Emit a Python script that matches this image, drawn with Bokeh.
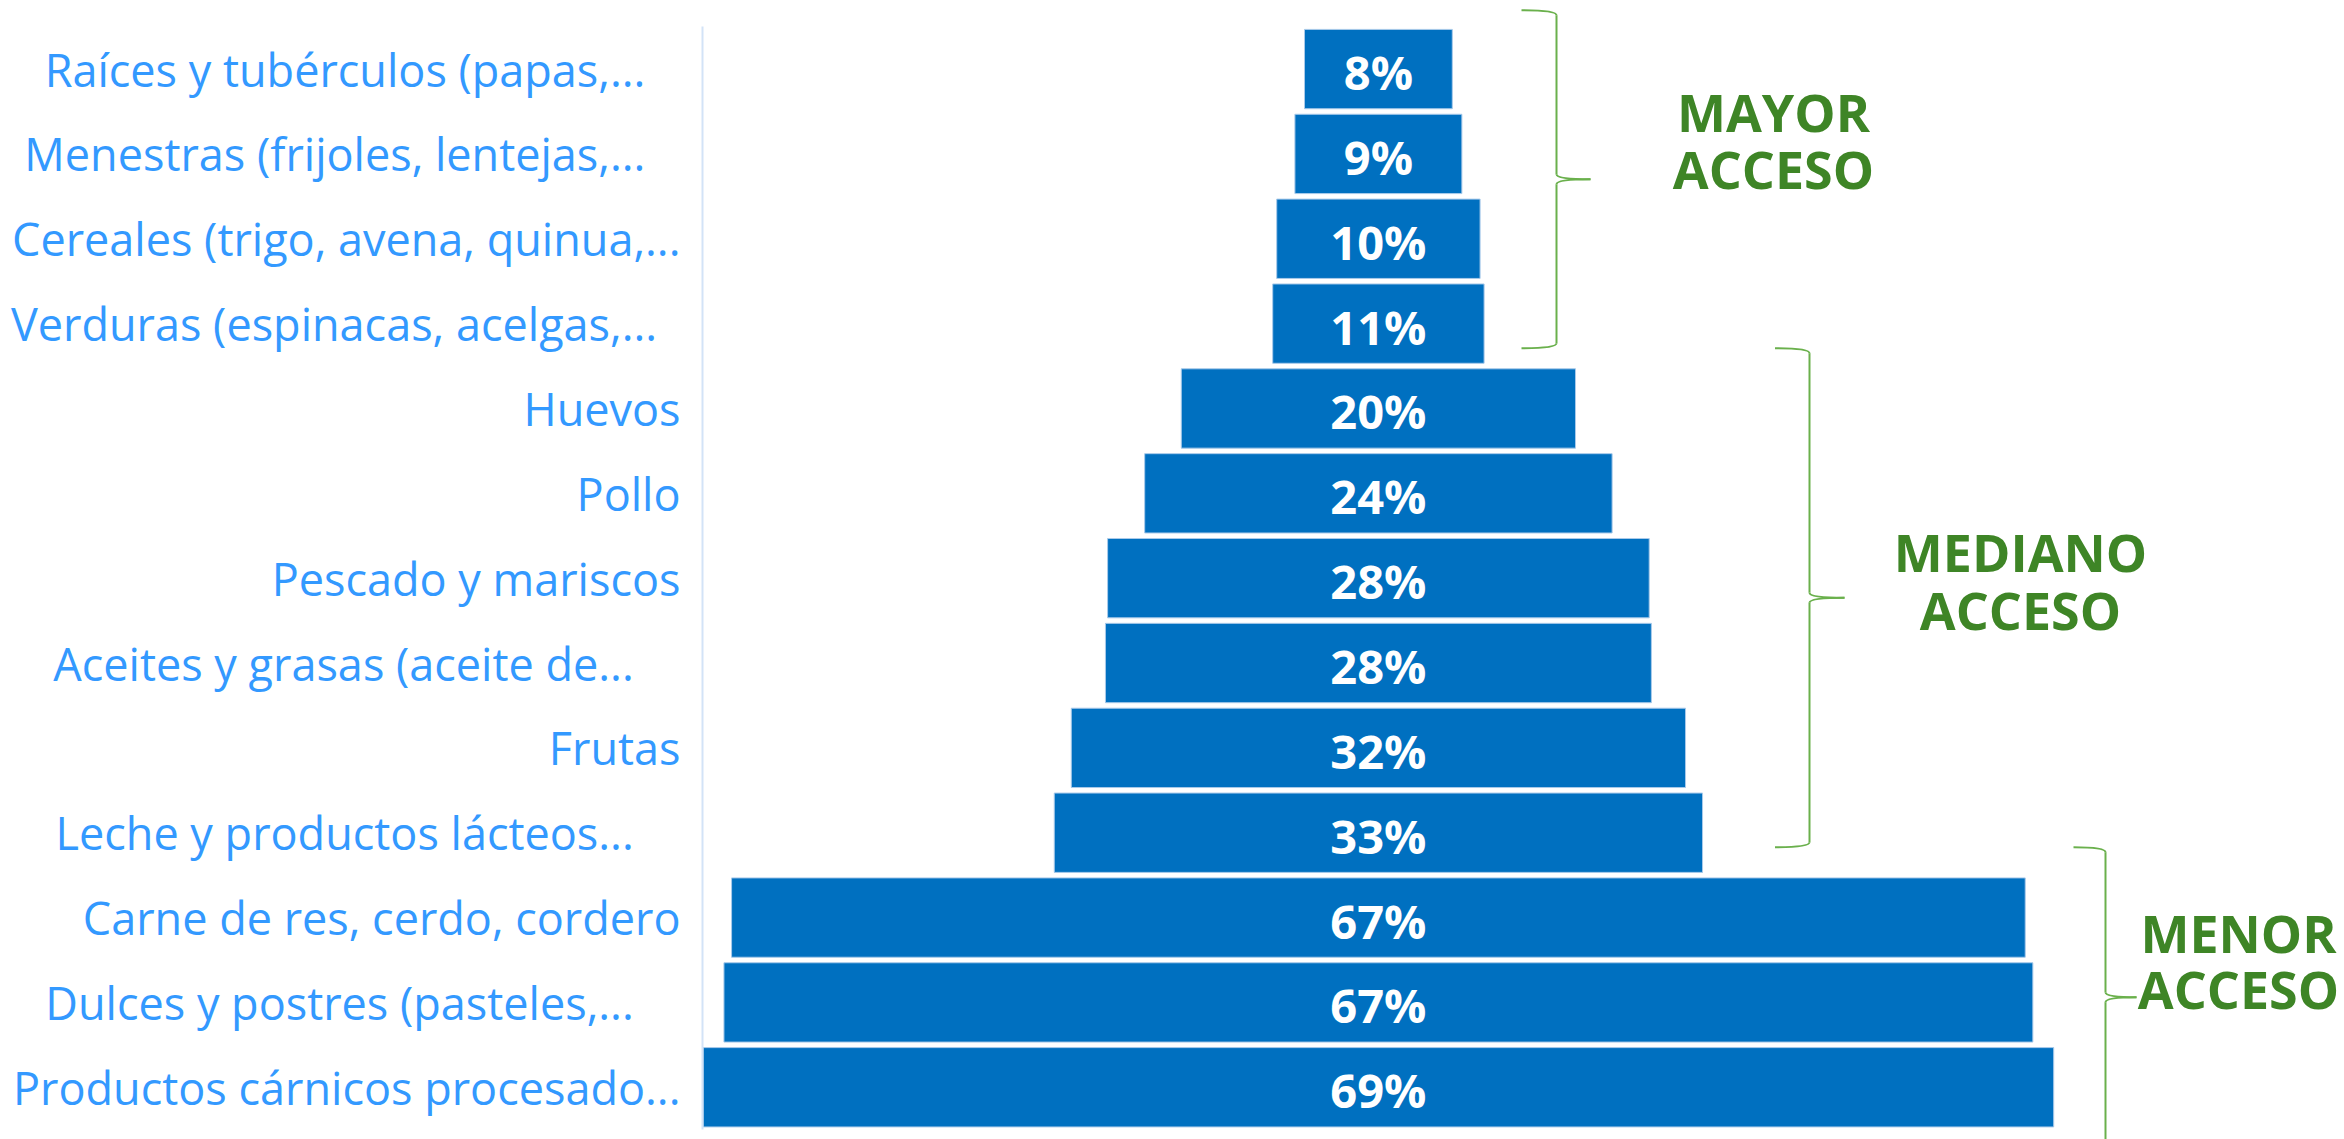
from bokeh.plotting import figure
from bokeh.models import Range1d, FixedTicker, ColumnDataSource
from bokeh.embed import file_html
from bokeh.resources import INLINE
from bokeh.core.properties import value

# ---------------- data (top to bottom, as in the chart) ----------------
categories = [
    "Raíces y tubérculos (papas,...",
    "Menestras (frijoles, lentejas,...",
    "Cereales (trigo, avena, quinua,...",
    "Verduras (espinacas, acelgas,...",
    "Huevos",
    "Pollo",
    "Pescado y mariscos",
    "Aceites y grasas (aceite de...",
    "Frutas",
    "Leche y productos lácteos...",
    "Carne de res, cerdo, cordero",
    "Dulces y postres (pasteles,...",
    "Productos cárnicos procesado...",
]
# bar lengths as drawn (percent)
bar_values = [7.55, 8.53, 10.39, 10.80, 20.14, 23.88, 27.67, 27.89, 31.38, 33.12, 66.09, 66.87, 69.0]
# printed percentages
pct_labels = [8, 9, 10, 11, 20, 24, 28, 28, 32, 33, 67, 67, 69]
group_names = ["MAYOR ACCESO", "MEDIANO ACCESO", "MENOR ACCESO"]

# ---------------- layout constants (pixels) ----------------
W, H = 2344, 1139
FRAME_LEFT = 702
PX_X = 19.574          # pixels per percent
CENTER_FX = 1377.9     # pixel x of the funnel centre
ROW_PX = 84.85
TOP_FY = 26.15
n = len(categories)

# truncated labels are centred in the label area (as the original chart does);
# emulate by padding them on the right with non-breaking spaces
label_pad = {0: 3, 1: 3, 3: 2, 7: 4, 9: 4, 11: 4}

def dx(px):
    return (px - CENTER_FX) / PX_X

def dy(py):
    return n - 0.5 - (py - TOP_FY) / ROW_PX

x_start = dx(FRAME_LEFT)
x_end = dx(W)
y_start = dy(H)
y_end = dy(0)

ys = [n - 1 - k for k in range(n)]

p = figure(width=W, height=H, output_backend="svg", toolbar_location=None,
           x_range=Range1d(x_start, x_end), y_range=Range1d(y_start, y_end),
           x_axis_location=None, y_axis_location="left",
           min_border_left=FRAME_LEFT, min_border_right=0,
           min_border_top=0, min_border_bottom=0)
p.outline_line_color = None
p.background_fill_color = "white"
p.border_fill_color = "white"
p.xgrid.visible = False
p.ygrid.visible = False

src = ColumnDataSource(dict(
    y=ys,
    left=[-v / 2 for v in bar_values],
    right=[v / 2 for v in bar_values],
    x0=[0] * n,
    label=[f"{v}%" for v in pct_labels],
))

p.hbar(y="y", left="left", right="right", height=0.935, source=src,
       fill_color="#0070C0", line_color="#A9CAEA", line_width=1)

p.text(x="x0", y="y", text="label", source=src,
       text_font=value("Open Sans"), text_font_size="47px", text_font_style="bold",
       text_color="white", text_align="center", text_baseline="alphabetic",
       y_offset=3)

# y axis with category labels
ax = p.yaxis[0]
ax.ticker = FixedTicker(ticks=ys)
ax.major_label_overrides = {
    y: c + "\u00a0" * label_pad.get(k, 0)
    for k, (y, c) in enumerate(zip(ys, categories))
}
ax.major_label_text_font = "Open Sans"
ax.major_label_text_font_size = "45px"
ax.major_label_text_color = "#3399FF"
ax.major_label_standoff = 16
ax.major_tick_line_color = None
ax.minor_tick_line_color = None
ax.axis_line_color = "#D3E3F7"
ax.axis_line_width = 2
ax.bounds = (-0.5, n - 0.5)

# ---------------- braces ----------------
# (hook start x, line x, tip x, top y, tip y, bottom y) in pixels
braces = [
    (1521, 1556, 1590, 9.7, 178.7, 347.7),
    (1774.5, 1809, 1844, 347.7, 597.2, 846.7),
    (2073, 2105, 2136, 846.7, 996.7, 1146.7),
]
r = 5
q = dict(x0=[], y0=[], x1=[], y1=[], cx=[], cy=[])
seg = dict(x0=[], y0=[], x1=[], y1=[])
def addq(a, b, c):
    q["x0"].append(dx(a[0])); q["y0"].append(dy(a[1]))
    q["x1"].append(dx(b[0])); q["y1"].append(dy(b[1]))
    q["cx"].append(dx(c[0])); q["cy"].append(dy(c[1]))
def adds(a, b):
    seg["x0"].append(dx(a[0])); seg["y0"].append(dy(a[1]))
    seg["x1"].append(dx(b[0])); seg["y1"].append(dy(b[1]))
for xs, xl, xt, yt, ym, yb in braces:
    addq((xs, yt), (xl, yt + r), (xl, yt))
    adds((xl, yt + r), (xl, ym - r))
    addq((xl, ym - r), (xt, ym), (xl, ym))
    addq((xt, ym), (xl, ym + r), (xl, ym))
    adds((xl, ym + r), (xl, yb - r))
    addq((xl, yb - r), (xs, yb), (xl, yb))

BRACE_COLOR = "#6AB04C"
p.quadratic(x0="x0", y0="y0", x1="x1", y1="y1", cx="cx", cy="cy",
            source=ColumnDataSource(q), line_color=BRACE_COLOR, line_width=2)
p.segment(x0="x0", y0="y0", x1="x1", y1="y1",
          source=ColumnDataSource(seg), line_color=BRACE_COLOR, line_width=2)

# ---------------- group texts ----------------
# centre x and two baselines (pixels)
group_pos = [(1773, 129.6, 186.8), (2020, 570.3, 627.9), (2238, 950.7, 1007.3)]
gt = dict(x=[], y=[], t=[])
for name, (cx, b1, b2) in zip(group_names, group_pos):
    l1, l2 = name.split(" ")
    for t, b in ((l1, b1), (l2, b2)):
        gt["x"].append(dx(cx)); gt["y"].append(dy(b)); gt["t"].append(t)
p.text(x="x", y="y", text="t", source=ColumnDataSource(gt),
       text_font=value("Open Sans"), text_font_size="52px", text_font_style="bold",
       text_color="#3E8526", text_align="center", text_baseline="alphabetic",
       y_offset=-19)

open("out.html", "w").write(file_html(p, INLINE))
